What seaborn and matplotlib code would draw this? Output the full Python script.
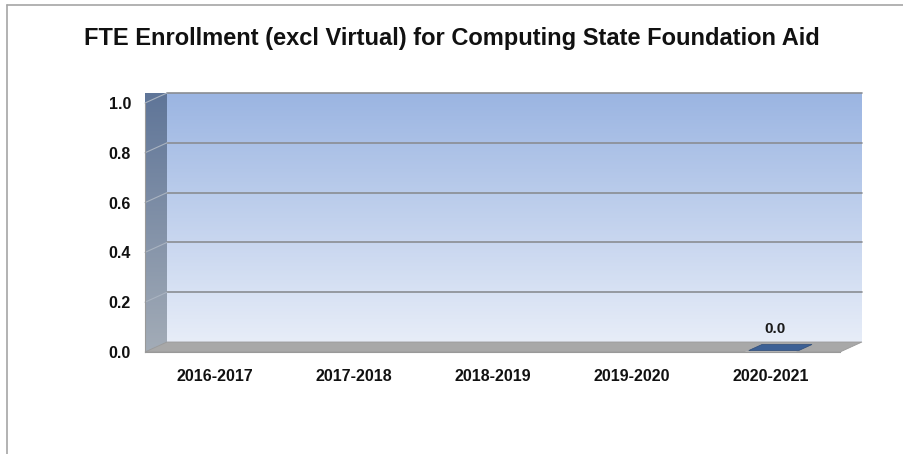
import numpy as np
import pandas as pd
import matplotlib.pyplot as plt
import seaborn as sns
from matplotlib.colors import LinearSegmentedColormap
from matplotlib.patches import Polygon

years = ["2016-2017", "2017-2018", "2018-2019", "2019-2020", "2020-2021"]
fte = [np.nan, np.nan, np.nan, np.nan, 0.0]
yticks = [0.0, 0.2, 0.4, 0.6, 0.8, 1.0]
title = "FTE Enrollment (excl Virtual) for Computing State Foundation Aid"

df = pd.DataFrame({"year": years, "fte": fte})

sns.set_style("white")
plt.rcParams["font.family"] = ["Liberation Sans Narrow", "Liberation Sans", "DejaVu Sans"]

fig = plt.figure(figsize=(9.04, 4.54), dpi=100)
ax = fig.add_axes([145 / 904, 102 / 454, 695 / 904, 249 / 454])

# depth offset of the 3d box (axes fraction)
dx, dy = 22 / 695, 10 / 249

# back wall with gradient
wall_cmap = LinearSegmentedColormap.from_list("wall", ["#e7edf8", "#9bb5e2"])
grad = np.linspace(0, 1, 256).reshape(-1, 1)
ax.imshow(grad, cmap=wall_cmap, origin="lower", aspect="auto",
          extent=[dx, 1 + dx, dy, 1 + dy], transform=ax.transAxes,
          clip_on=False, zorder=0)

# left side wall
side_cmap = LinearSegmentedColormap.from_list("side", ["#a3acb7", "#5f7598"])
side = Polygon([(0, 0), (dx, dy), (dx, 1 + dy), (0, 1)], closed=True,
               transform=ax.transAxes, facecolor="none", edgecolor="none")
ax.add_patch(side)
im = ax.imshow(grad, cmap=side_cmap, origin="lower", aspect="auto",
               extent=[0, dx, 0, 1 + dy], transform=ax.transAxes,
               clip_on=False, zorder=0.5)
im.set_clip_path(side)

# floor
floor = Polygon([(0, 0), (1, 0), (1 + dx, dy), (dx, dy)], closed=True,
                transform=ax.transAxes, facecolor="#a8a8a8",
                edgecolor="#9a9a9a", lw=0.6, clip_on=False, zorder=1)
ax.add_patch(floor)

# gridlines on back wall + side
for t in yticks[1:]:
    ax.plot([dx, 1 + dx], [t + dy, t + dy], transform=ax.transAxes,
            color="#8a8d92", lw=1.2, clip_on=False, zorder=1)
    ax.plot([0, dx], [t, t + dy], transform=ax.transAxes,
            color="#a9b3c0", lw=0.8, clip_on=False, zorder=1)

sns.barplot(data=df, x="year", y="fte", ax=ax, color="#3c6095",
            width=0.36, errorbar=None, zorder=2)

# flat top face for the zero bar + value label
bars = ax.containers[0]
for p, v in zip(bars, bars.datavalues):
    if np.isnan(v):
        continue
    x0 = p.get_x()
    w = p.get_width()
    xs = ax.transData.transform([(x0, 0), (x0 + w, 0)])
    (ax0, _), (ax1, _) = ax.transAxes.inverted().transform(xs)
    d0, d1 = 0.15, 0.75
    face = Polygon([(ax0 + d0 * dx, d0 * dy), (ax1 + d0 * dx, d0 * dy),
                    (ax1 + d1 * dx, d1 * dy), (ax0 + d1 * dx, d1 * dy)],
                   closed=True, transform=ax.transAxes, facecolor="#3c6095",
                   edgecolor="#2d4c7a", lw=0.5, clip_on=False, zorder=3)
    ax.add_patch(face)
    ax.text(x0 + w / 2 + 0.03, v + 0.065, f"{v:.1f}", ha="center", va="bottom",
            fontsize=11, fontweight="bold", color="#1a1a1a")

ax.set_xlim(-0.5, len(years) - 0.5)
ax.set_ylim(0, 1)
ax.set_yticks(yticks)
ax.set_yticklabels([f"{t:.1f}" for t in yticks], fontsize=11.5,
                   fontweight="bold", color="#111111")
ax.set_xticks(range(len(years)))
ax.set_xticklabels(years, fontsize=11.5, fontweight="bold", color="#111111")
ax.set_xticks(np.arange(-0.5, len(years)), minor=True)
ax.tick_params(axis="x", which="major", length=0, pad=12)
ax.tick_params(axis="x", which="minor", length=5, color="#888888", width=0.8)
ax.tick_params(axis="y", length=4, color="#888888", width=0.8, pad=6)
ax.set_xlabel("")
ax.set_ylabel("")
for s in ["top", "right"]:
    ax.spines[s].set_visible(False)
for s in ["left", "bottom"]:
    ax.spines[s].set_color("#999999")
    ax.spines[s].set_linewidth(0.8)
ax.set_facecolor("none")

fig.text(0.5, 0.915, title, ha="center", va="center", fontsize=17,
         fontweight="bold", color="#111111")

# outer chart border
fig.add_artist(plt.Line2D([7 / 904, 7 / 904], [0, 1 - 5 / 454],
                          transform=fig.transFigure, color="#a6a6a6", lw=1.2))
fig.add_artist(plt.Line2D([7 / 904, 1], [1 - 5 / 454, 1 - 5 / 454],
                          transform=fig.transFigure, color="#a6a6a6", lw=1.2))

fig.savefig("out.png", dpi=100)
